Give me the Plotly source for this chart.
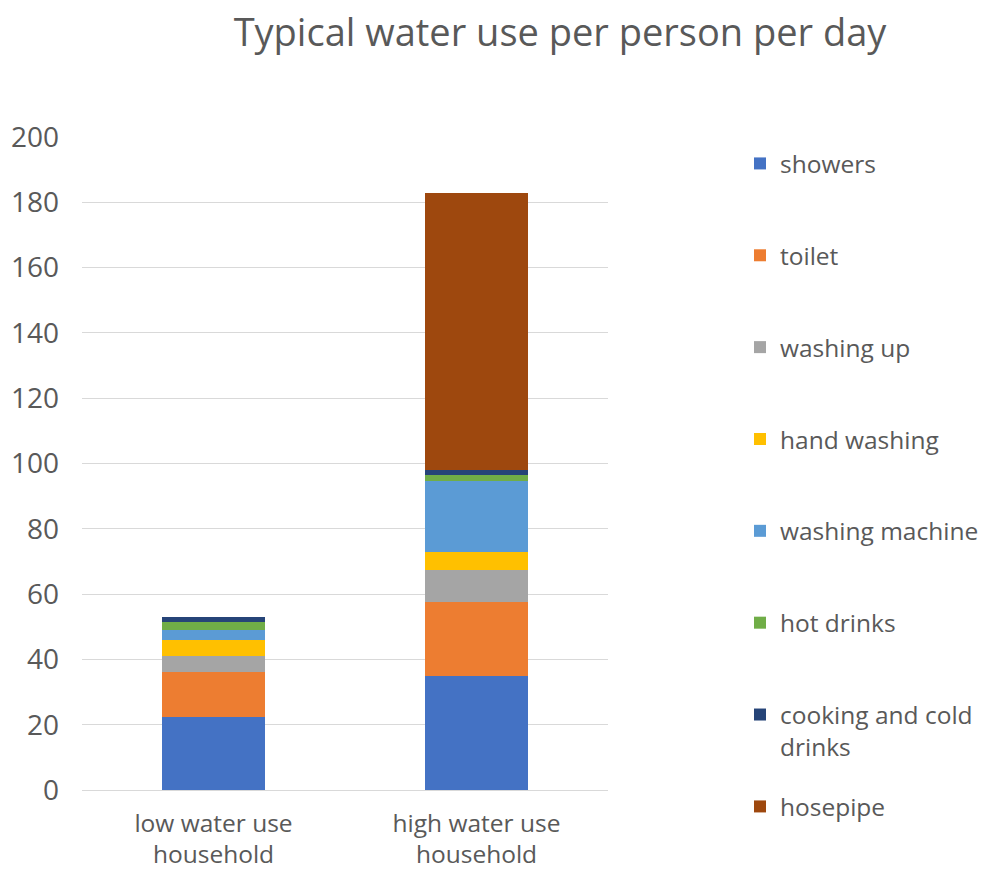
import plotly.graph_objects as go

categories = ["low water use<br>household", "high water use<br>household"]
series_names = ["showers", "toilet", "washing up", "hand washing", "washing machine",
                "hot drinks", "cooking and cold<br>drinks", "hosepipe"]
low_values = [22.5, 13.5, 5, 5, 3, 2.5, 1.5, 0]
high_values = [35, 22.5, 10, 5.5, 21.5, 2, 1.5, 85]
colors = ["#4472C4", "#ED7D31", "#A5A5A5", "#FFC000", "#5B9BD5", "#70AD47", "#264478", "#9E480E"]
y_ticks = [0, 20, 40, 60, 80, 100, 120, 140, 160, 180, 200]

FONT = "Open Sans"
GRAY = "#595959"

fig = go.Figure()
for i, name in enumerate(series_names):
    fig.add_trace(go.Bar(
        x=categories,
        y=[low_values[i], high_values[i]],
        name=name,
        legendgroup=f"g{i}",
        legend="legend2" if i == len(series_names) - 1 else "legend",
        marker=dict(color=colors[i], line=dict(width=0)),
    ))

legend_common = dict(
    xref="container", yref="container", xanchor="left", yanchor="top",
    traceorder="grouped", tracegroupgap=57, valign="top",
    font=dict(size=24.5, color=GRAY, family=FONT),
    itemwidth=30, maxheight=860, bgcolor="rgba(0,0,0,0)",
)

fig.update_layout(
    barmode="stack",
    bargap=0.605,
    width=982, height=871,
    paper_bgcolor="white", plot_bgcolor="white",
    margin=dict(l=82, r=374, t=137, b=81),
    font=dict(family=FONT, color=GRAY, size=24),
    title=dict(text="Typical water use per person per day", x=560/982, xanchor="center",
               xref="container", y=1 - 33/871, yref="container", yanchor="middle",
               font=dict(size=38, color=GRAY, family=FONT)),
    legend=dict(x=740/982, y=1 - 141/871, **legend_common),
    legend2=dict(x=740/982, y=1 - 784/871, **legend_common),
    xaxis=dict(showgrid=False, showline=False, ticks="", ticklabelstandoff=16, automargin=False,
               tickfont=dict(size=24.5, color=GRAY)),
    yaxis=dict(range=[0, 200], tickvals=y_ticks, showgrid=True, gridcolor="#D9D9D9", gridwidth=1.3,
               zeroline=True, zerolinecolor="#D9D9D9", zerolinewidth=1.3, automargin=False,
               ticks="", ticklabelstandoff=22, tickfont=dict(size=28, color=GRAY)),
)

fig.write_html("out.html")
